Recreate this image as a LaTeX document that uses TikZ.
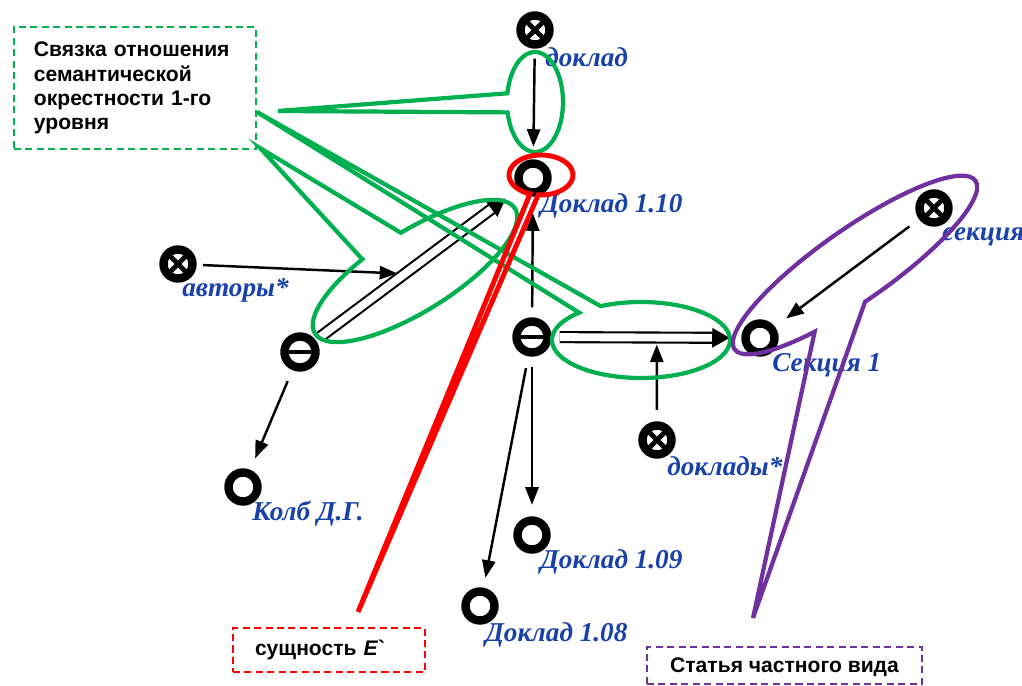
\documentclass[tikz,border=0pt]{standalone}
\usepackage{fontspec}
\setmainfont{Liberation Sans}
\newfontfamily\nodefont{Liberation Serif}
\usetikzlibrary{arrows.meta}

\definecolor{calloutgreen}{RGB}{0,176,80}
\definecolor{calloutred}{RGB}{255,0,0}
\definecolor{calloutviolet}{RGB}{112,48,160}
\definecolor{labelblue}{RGB}{25,65,170}

\begin{document}
\begin{tikzpicture}[x=0.02cm, y=-0.02cm,
	vtx/.style={circle, draw, line width=4.8pt, minimum size=0.58cm, inner sep=0pt},
	vtheta/.style={vtx, minimum size=0.62cm, path picture={\draw[line width=2.4pt] (path picture bounding box.west) -- (path picture bounding box.east);}},
	vcross/.style={vtx, path picture={\draw[line width=2.8pt] (path picture bounding box.north west) -- (path picture bounding box.south east) (path picture bounding box.north east) -- (path picture bounding box.south west);}},
	arrw/.style={line width=1.4pt, -{Triangle[length=10pt,width=7.5pt]}},
	dblarrw/.style={double, double distance=4.5pt, line width=1.2pt, -{Triangle[length=10pt,width=11pt]}},
	nlabel/.style={anchor=west, inner sep=0pt, text=labelblue, font=\nodefont\bfseries\itshape\fontsize{15.5}{18}\selectfont},
	callout/.style={line width=2.4pt, line join=miter},
	notebox/.style={draw, line width=1.1pt, dash pattern=on 4pt off 2.5pt, inner sep=0pt, font=\bfseries\fontsize{12}{13.8}\selectfont}
	]
	\useasboundingbox (0,0) rectangle (1022,686);

	% vertices
	\node[vcross] (dokl) at (535,30) {};
	\node[vtx] (d110) at (533,178) {};
	\node[vcross] (avt) at (178,264) {};
	\node[vtheta] (thl) at (300,352) {};
	\node[vtx] (kolb) at (243,487) {};
	\node[vtheta] (thc) at (532,337) {};
	\node[vtx] (sek1) at (760,338) {};
	\node[vcross] (sek) at (934,208) {};
	\node[vcross] (dokls) at (657,440) {};
	\node[vtx] (d109) at (532,535) {};
	\node[vtx] (d108) at (480,606) {};

	% labels
	\node[nlabel] (lDokl) at (545,57) {доклад};
	\node[nlabel] (lD110) at (540,206) {Доклад 1.10};
	\node[nlabel] (lAvt) at (182,290) {авторы*};
	\node[nlabel] (lKolb) at (252,514) {Колб Д.Г.};
	\node[nlabel] (lSek1) at (772,365) {Секция 1};
	\node[nlabel] (lSek) at (942,237) {секция};
	\node[nlabel] (lDokls) at (667,466) {доклады*};
	\node[nlabel] (lD109) at (540,562) {Доклад 1.09};
	\node[nlabel] (lD108) at (485,635) {Доклад 1.08};

	% arcs
	\draw[dblarrw, shorten <=0.11cm, shorten >=0.31cm] (thl) -- coordinate[pos=0.44] (onAvt) (d110);
	\draw[dblarrw, shorten <=0.16cm, shorten >=0.23cm] (thc) -- coordinate[pos=0.554] (onDokls) (sek1);
	\draw[arrw, shorten <=0.2cm, shorten >=0.25cm] (dokl) -- (d110);
	\draw[arrw, shorten <=0.2cm, shorten >=0.33cm] (thc) -- (d110);
	\draw[arrw, shorten <=0.2cm, shorten >=0.23cm] (thc) -- (d109);
	\draw[arrw, shorten <=0.24cm, shorten >=0.2cm] (thc) -- (d108);
	\draw[arrw, shorten <=0.24cm, shorten >=0.25cm] (thl) -- (kolb);
	\draw[arrw, shorten <=0.24cm, shorten >=0.28cm] (sek) -- (sek1);
	\draw[arrw, shorten <=0.13cm, shorten >=0.15cm] (avt) -- (onAvt);
	\draw[arrw, shorten <=0.23cm, shorten >=0.14cm] (dokls) -- (onDokls);

	% notes
	\node[notebox, draw=calloutgreen, anchor=north west, minimum width=4.84cm, minimum height=2.44cm, text width=4.04cm, align=left] (noteSvyazka) at (13,26) {Связка отношения\\семантической\\окрестности 1-го\\уровня};
	\node[notebox, draw=calloutred, minimum width=3.84cm, minimum height=0.88cm, text width=2.96cm, align=left] (noteEntity) at (329,650) {сущность \textit{E}\textasciigrave};
	\node[notebox, draw=calloutviolet, minimum width=5.5cm, minimum height=0.74cm, text depth=0pt] (noteArticle) at (784.5,665.5) {Статья частного вида};

	% callout tips
	\coordinate (tipA) at (278,111);
	\coordinate (tipB) at (260,148);
	\coordinate (tipC) at (257,112);
	\coordinate (tipD) at (358,612);
	\coordinate (tipE) at (753,618);

	% callouts: ellipse plus wedge to the tip
	\begin{scope}[shift={(535,102)}]
		\draw[callout, calloutgreen] (tipA) -- (190:28 and 50) arc[start angle=190, end angle=528, x radius=28, y radius=50] -- cycle;
	\end{scope}
	\begin{scope}[shift={(415,271)}, rotate=32]
		\draw[callout, calloutgreen] (tipB) -- (274:118 and 40) arc[start angle=274, end angle=611, x radius=118, y radius=40] -- cycle;
	\end{scope}
	\begin{scope}[shift={(641,340)}]
		\draw[callout, calloutgreen] (tipC) -- (243:89 and 38) arc[start angle=243, end angle=586, x radius=89, y radius=38] -- cycle;
	\end{scope}
	\begin{scope}[shift={(541,175)}]
		\draw[callout, calloutred, line width=2.8pt] (tipD) -- (110:32 and 20) arc[start angle=110, end angle=455, x radius=32, y radius=20] -- cycle;
	\end{scope}
	\begin{scope}[shift={(855,265)}, rotate=35]
		\draw[callout, calloutviolet] (tipE) -- (119:147 and 36) arc[start angle=119, end angle=455, x radius=147, y radius=36] -- cycle;
	\end{scope}
\end{tikzpicture}
\end{document}
